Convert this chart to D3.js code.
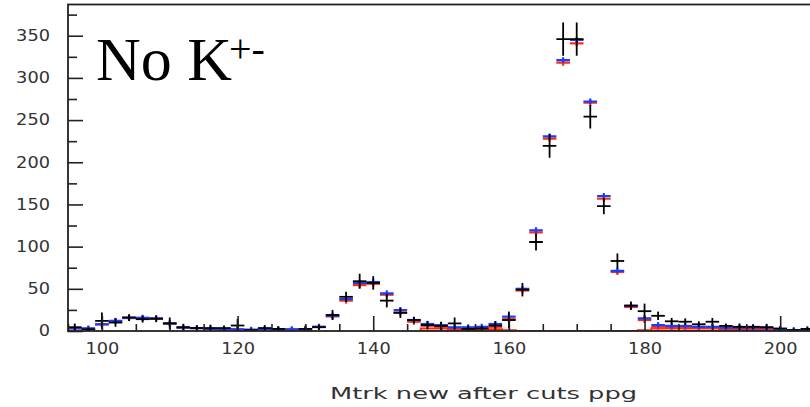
<!DOCTYPE html>
<html>
<head>
<meta charset="utf-8">
<script src="https://cdn.jsdelivr.net/npm/d3@7/dist/d3.min.js"></script>
<style>
  html, body { margin: 0; padding: 0; background: #fff; }
  svg { display: block; }
  .tick text { font-family: "DejaVu Sans", sans-serif; fill: #333; }
</style>
</head>
<body>
<svg id="chart" width="810" height="407"></svg>
<script>
// Bin centres of the Mtrk histogram (2 GeV-wide bins)
const binCenters = [96, 98, 100, 102, 104, 106, 108, 110, 112, 114, 116, 118, 120, 122, 124, 126, 128, 130,
  132, 134, 136, 138, 140, 142, 144, 146, 148, 150, 152, 154, 156, 158, 160, 162, 164, 166, 168, 170,
  172, 174, 176, 178, 180, 182, 184, 186, 188, 190, 192, 194, 196, 198, 200, 202, 204];

// Data: counts and their errors (black crosses)
const dataCounts = [4.5, 2, 12, 10, 16, 14, 14.5, 9, 4.5, 3.5, 3.5, 3.5, 6.5, 1, 3.5, 2.5, 0, 2.5,
  4.5, 19, 40.5, 59, 57, 36, 21.5, 13, 7, 6, 9, 2.5, 3, 6.5, 13, 49, 105.5, 219.5, 346, 346,
  254, 148, 83, 30, 23.5, 18, 11.5, 11, 8, 11, 6, 5, 5, 4.5, 3, 1, 2.5];
const dataErrors = [4.4, 2, 10, 5, 4, 4, 4, 7, 4, 3, 4, 3, 7.7, 2, 3.5, 3, 0, 4,
  3, 6, 6, 8.9, 8, 8, 6, 4, 5, 5, 7, 4, 3, 5, 10, 8, 10, 14, 19.7, 19.7,
  14, 9.5, 9, 5, 9, 5, 4, 4, 3.5, 4.5, 3, 4, 3, 4, 3, 2, 3];

// Simulation, total (blue)
const mcTotal = [3.2, 3, 8, 12, 15.8, 15.7, 15, 9, 4, 3.5, 2.5, 2, 2, 1.5, 2, 2, 2, 2,
  5, 18, 37.8, 57, 58, 44.6, 24.8, 13, 8.3, 7, 4.4, 4.4, 5, 8.3, 17, 50, 119.4, 230.6, 321, 345,
  272, 160, 71.3, 30, 15, 7, 6, 6, 5, 5, 4, 4, 4, 4, 1.5, 1, 1];

// Simulation, signal only (red)
const mcSignal = [3.1, 2.9, 7.8, 11.8, 15.3, 15.2, 14.6, 8.8, 3.8, 3.3, 2.3, 1.8, 1.8, 1.3, 1.8, 1.8, 1.8, 1.8,
  4.8, 17.3, 36, 54.4, 56, 43, 22, 11, 6.3, 5, 2.5, 2.5, 3, 5, 14, 48, 117, 228, 318, 341,
  270.6, 157, 70, 28.5, 13, 5, 4.5, 4.5, 4, 4, 3.5, 3.5, 3.5, 3.5, 1, 0.5, 0.5];

// Simulation, background (red outline, starts at 147)
const bkgCenters = [148, 150, 152, 154, 156, 158, 160, 162, 164, 166, 168, 170, 172, 174, 176, 178,
  180, 182, 184, 186, 188, 190, 192, 194, 196, 198, 200, 202, 204];
const bkgCounts = [3, 3, 2, 2, 2, 2, 1, 0, 0, 0, 0, 0, 0, 0, 0, 0,
  1, 3, 3, 3, 3, 3, 2, 2, 2, 2, 0.5, 0.5, 0.5];

const binWidth = 2;
const yMajorTicks = [0, 50, 100, 150, 200, 250, 300, 350];
const yMinorTicks = [25, 75, 125, 175, 225, 275, 325, 375];
const xMajorTicks = [100, 120, 140, 160, 180, 200];
const xMinorTicks = [95, 105, 110, 115, 125, 130, 135, 145, 150, 155, 165, 170, 175, 185, 190, 195, 205];
const xTitle = "Mtrk new after cuts ppg";

const svg = d3.select("#chart");
const plotLeft = 68, plotTop = 4.5, plotBottom = 331, plotRight = 817.5;

const x = d3.scaleLinear().domain([95, 205.5]).range([plotLeft, plotRight]);
const y = d3.scaleLinear().domain([0, 387]).range([plotBottom, plotTop]);

svg.append("defs").append("clipPath").attr("id", "plot")
  .append("rect").attr("x", plotLeft).attr("y", plotTop)
  .attr("width", plotRight - plotLeft).attr("height", plotBottom - plotTop);

const plot = svg.append("g").attr("clip-path", "url(#plot)");

// background outline histogram
const bkgPath = d3.path();
bkgPath.moveTo(x(bkgCenters[0] - binWidth / 2), y(0));
bkgCenters.forEach((c, i) => {
  bkgPath.lineTo(x(c - binWidth / 2), y(bkgCounts[i]));
  bkgPath.lineTo(x(c + binWidth / 2), y(bkgCounts[i]));
});
bkgPath.lineTo(x(bkgCenters[bkgCenters.length - 1] + binWidth / 2), y(0));
bkgPath.closePath();
plot.append("path").attr("d", bkgPath.toString())
  .attr("fill", "none").attr("stroke", "#ff2a10").attr("stroke-width", 2);

// crosses for a histogram: horizontal bin bar + vertical bar
function drawCrosses(values, color, width, errFn) {
  const g = plot.append("g").attr("stroke", color).attr("stroke-width", width);
  binCenters.forEach((c, i) => {
    const v = values[i];
    if (v <= 0) return;
    g.append("line")
      .attr("x1", x(c - binWidth / 2)).attr("x2", x(c + binWidth / 2))
      .attr("y1", y(v)).attr("y2", y(v));
    const [lo, hi] = errFn(v, i);
    g.append("line")
      .attr("x1", x(c)).attr("x2", x(c))
      .attr("y1", lo).attr("y2", hi);
  });
}

drawCrosses(mcSignal, "#ff2a10", 2.2, v => [y(v) - 2.5, y(v) + 3]);
drawCrosses(mcTotal, "#1a3cff", 2.2, v => [y(v) - 3, y(v) + 2.5]);
drawCrosses(dataCounts, "#000", 1.8, (v, i) => [y(v + dataErrors[i]), y(Math.max(0, v - dataErrors[i]))]);

// axes
const fmt = d3.format("d");
const yMajor = svg.append("g").attr("transform", `translate(${plotLeft},0)`)
  .call(d3.axisLeft(y).tickValues(yMajorTicks).tickSizeInner(-15).tickSizeOuter(0).tickPadding(18).tickFormat(fmt));
const yMinor = svg.append("g").attr("transform", `translate(${plotLeft},0)`)
  .call(d3.axisLeft(y).tickValues(yMinorTicks).tickSizeInner(-9).tickSizeOuter(0).tickFormat(""));
const xMajor = svg.append("g").attr("transform", `translate(0,${plotBottom})`)
  .call(d3.axisBottom(x).tickValues(xMajorTicks).tickSizeInner(-15).tickSizeOuter(0).tickPadding(12).tickFormat(fmt));
const xMinor = svg.append("g").attr("transform", `translate(0,${plotBottom})`)
  .call(d3.axisBottom(x).tickValues(xMinorTicks).tickSizeInner(-7).tickSizeOuter(0).tickFormat(""));

[yMajor, yMinor, xMajor, xMinor].forEach(g => {
  g.select(".domain").remove();
  g.selectAll(".tick line").attr("stroke", "#222").attr("stroke-width", 1.6);
});
// wide, plain digits: stretch each label to 11px per character
[yMajor, xMajor].forEach(g => {
  g.selectAll(".tick text")
    .attr("font-size", 15)
    .attr("textLength", function () { return this.textContent.length * 11.3; })
    .attr("lengthAdjust", "spacingAndGlyphs");
});

// frame
svg.append("rect")
  .attr("x", plotLeft).attr("y", plotTop)
  .attr("width", plotRight - plotLeft).attr("height", plotBottom - plotTop)
  .attr("fill", "none").attr("stroke", "#222").attr("stroke-width", 1.8);

// axis title
svg.append("text")
  .attr("x", 330).attr("y", 399)
  .attr("font-family", "DejaVu Sans, sans-serif").attr("font-size", 16)
  .attr("fill", "#333")
  .attr("textLength", 307).attr("lengthAdjust", "spacingAndGlyphs")
  .text(xTitle);

// label
svg.append("text")
  .attr("x", 96).attr("y", 79.5)
  .attr("font-family", "Liberation Serif, Times New Roman, serif").attr("font-size", 62)
  .attr("fill", "#000")
  .text("No K");
svg.append("text")
  .attr("x", 229).attr("y", 62)
  .attr("font-family", "Liberation Serif, Times New Roman, serif").attr("font-size", 40)
  .attr("fill", "#000")
  .text("+-");
</script>
</body>
</html>
